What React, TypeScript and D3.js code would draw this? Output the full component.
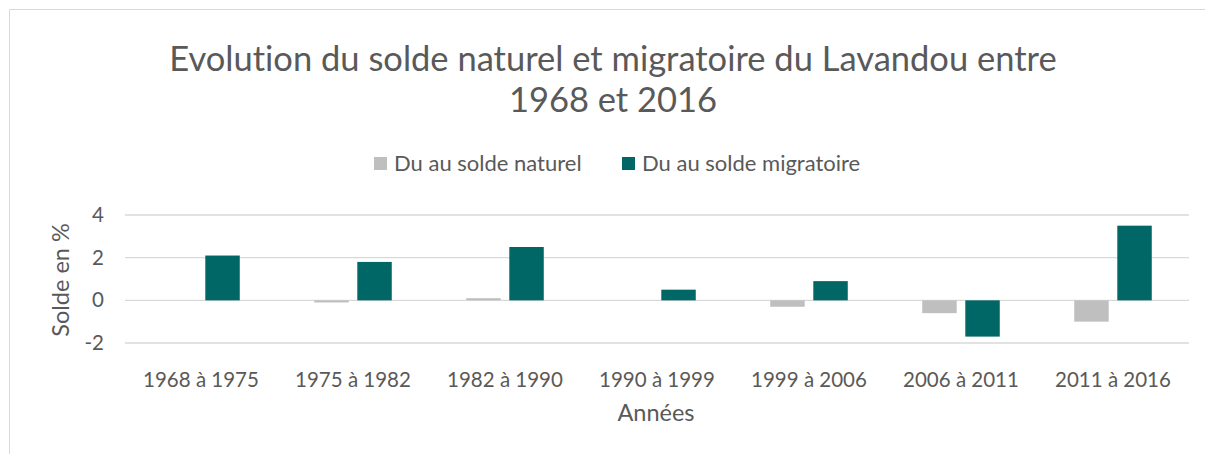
import React from "react";
import * as d3 from "d3";

const categories = ["1968 à 1975", "1975 à 1982", "1982 à 1990", "1990 à 1999", "1999 à 2006", "2006 à 2011", "2011 à 2016"];
const seriesNames = ["Du au solde naturel", "Du au solde migratoire"];
const naturel = [0, -0.1, 0.1, 0, -0.3, -0.6, -1.0];
const migratoire = [2.1, 1.8, 2.5, 0.5, 0.9, -1.7, 3.5];
const yTicks = [-2, 0, 2, 4];
const colors = ["#bfbfbf", "#006666"];

const W = 1205;
const H = 454;
const FONT = "Lato, 'Open Sans', sans-serif";
const TXT = "#595959";

export default function App() {
  const x0 = d3.scaleBand<string>().domain(categories).range([125, 1189]).paddingInner(0.49).paddingOuter(0.245);
  const x1 = d3.scaleBand<string>().domain(seriesNames).range([0, x0.bandwidth()]).paddingInner(0.2);
  const y = d3.scaleLinear().domain([-2, 4]).range([343, 215]);
  const series = [naturel, migratoire];

  return (
    <svg width={W} height={H} style={{ position: "absolute", left: 0, top: 0, background: "#fff", fontVariantLigatures: "none" }} fontFamily={FONT}>
      <rect x={0} y={0} width={W} height={H} fill="#fff" />
      <line x1={9.5} y1={9.5} x2={W} y2={9.5} stroke="#d9d9d9" strokeWidth={1} />
      <line x1={9.5} y1={9.5} x2={9.5} y2={H} stroke="#d9d9d9" strokeWidth={1} />

      <text x={613} y={71} textAnchor="middle" fontSize={34.5} fill={TXT}>Evolution du solde naturel et migratoire du Lavandou entre</text>
      <text x={613} y={112} textAnchor="middle" fontSize={34.5} fill={TXT}>1968 et 2016</text>

      {seriesNames.map((s, i) => {
        const lx = i === 0 ? 374 : 622;
        return (
          <g key={s}>
            <rect x={lx} y={157} width={13} height={13} fill={colors[i]} />
            <text x={lx + 20} y={171} fontSize={22} fill={TXT}>{s}</text>
          </g>
        );
      })}

      {yTicks.map((t) => (
        <g key={t}>
          <line x1={125} x2={1189} y1={y(t)} y2={y(t)} stroke="#d9d9d9" strokeWidth={1.3} />
          <text x={104} y={y(t) + 7} textAnchor="end" fontSize={20.5} fill={TXT}>{t}</text>
        </g>
      ))}

      {categories.map((c, ci) => (
        <g key={c}>
          {series.map((vals, si) => {
            const v = vals[ci];
            const bx = (x0(c) as number) + (x1(seriesNames[si]) as number);
            return (
              <rect key={si} x={bx} y={Math.min(y(v), y(0))} width={x1.bandwidth()} height={Math.abs(y(v) - y(0))} fill={colors[si]} />
            );
          })}
          <text x={(x0(c) as number) + x0.bandwidth() / 2} y={387} textAnchor="middle" fontSize={20.5} fill={TXT}>{c}</text>
        </g>
      ))}

      <text x={656} y={421} textAnchor="middle" fontSize={23.5} fill={TXT}>Années</text>
      <text transform="translate(69,280) rotate(-90)" textAnchor="middle" fontSize={23.5} fill={TXT}>Solde en %</text>
    </svg>
  );
}
